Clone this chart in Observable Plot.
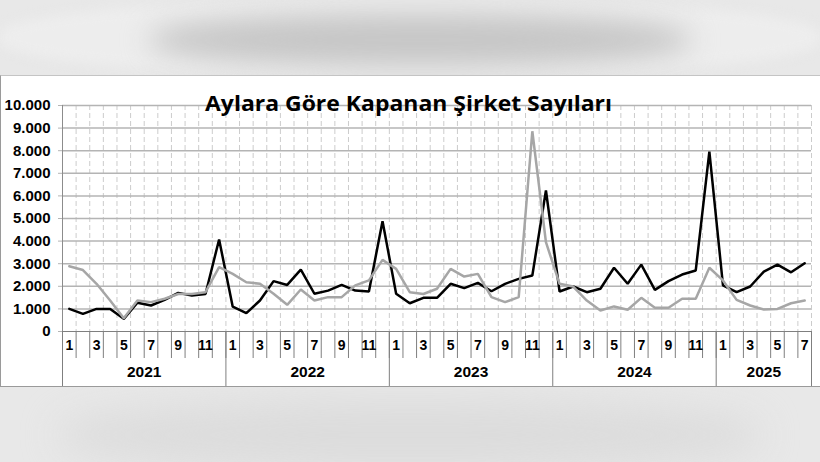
<!DOCTYPE html>
<html><head><meta charset="utf-8">
<script src="https://cdn.jsdelivr.net/npm/d3@7"></script>
<script src="https://cdn.jsdelivr.net/npm/@observablehq/plot@0.6"></script>
<style>
html,body{margin:0;padding:0;}
body{width:820px;height:462px;overflow:hidden;background:#e8e8e8;position:relative;font-family:"Liberation Sans",Arial,sans-serif;}
.blob{position:absolute;border-radius:45%;}
#panel{position:absolute;left:0;top:75px;width:820px;height:312px;box-sizing:border-box;background:#fff;border-top:1px solid #c4c4c4;border-left:1px solid #9a9a9a;border-bottom:1px solid #9a9a9a;}
#chart{position:absolute;left:0;top:75px;}
#overlay{position:absolute;left:0;top:0;pointer-events:none;}
</style>
</head><body>
<div class="blob" style="left:0;top:0;width:820px;height:75px;background:#ededed;filter:blur(6px);"></div>
<div class="blob" style="left:150px;top:14px;width:540px;height:52px;background:#c6c6c6;filter:blur(14px);"></div>
<div class="blob" style="left:60px;top:400px;width:700px;height:70px;background:#dcdcdc;filter:blur(18px);"></div>
<div id="panel"></div>
<div id="chart"></div>
<svg id="overlay" width="820" height="462">
  <text x="408.5" y="111" text-anchor="middle" font-family="'Open Sans', Lato, sans-serif" font-weight="700" font-size="21" textLength="407" lengthAdjust="spacingAndGlyphs" fill="#000">Aylara Göre Kapanan Şirket Sayıları</text>
</svg>
<script>
const years = ["2021", "2022", "2023", "2024", "2025"];
const monthsPerYear = [12, 12, 12, 12, 7];
const seriesBlack = [
  1000, 780, 1000, 1000, 560, 1270, 1150, 1400, 1710, 1590, 1660, 4070,
  1100, 810, 1370, 2230, 2060, 2740, 1670, 1810, 2060, 1810, 1770, 4880,
  1670, 1250, 1490, 1490, 2110, 1920, 2150, 1780, 2110, 2330, 2480, 6240,
  1770, 1990, 1740, 1890, 2820, 2110, 2960, 1840, 2230, 2520, 2700, 7960,
  2040, 1740, 1990, 2650, 2960, 2620, 3020
];
const seriesGray = [
  2890, 2720, 2110, 1370, 590, 1370, 1300, 1450, 1660, 1660, 1740, 2850,
  2550, 2180, 2110, 1670, 1180, 1860, 1370, 1520, 1520, 2040, 2260, 3170,
  2770, 1740, 1660, 1890, 2770, 2430, 2550, 1520, 1300, 1520, 8860, 3950,
  2110, 1990, 1370, 930, 1110, 960, 1490, 1050, 1050, 1450, 1450, 2820,
  2260, 1400, 1150, 970, 1000, 1250, 1370
];
const yTicks = [0, 1000, 2000, 3000, 4000, 5000, 6000, 7000, 8000, 9000, 10000];

const trFormat = d3.formatLocale({decimal: ",", thousands: ".", grouping: [3], currency: ["₺", ""]}).format(",");

const cats = [];
years.forEach((y, yi) => {
  for (let m = 1; m <= monthsPerYear[yi]; m++) cats.push({year: y, month: m, i: cats.length});
});
const n = cats.length;
const blackData = cats.map((c, k) => ({x: k + 0.5, v: seriesBlack[k]}));
const grayData = cats.map((c, k) => ({x: k + 0.5, v: seriesGray[k]}));
const yearStarts = [0];
monthsPerYear.forEach(m => yearStarts.push(yearStarts[yearStarts.length - 1] + m));
const yearCenters = years.map((y, yi) => ({year: y, x: (yearStarts[yi] + yearStarts[yi + 1]) / 2}));
const monthLabelData = cats.filter(c => c.month % 2 === 1).map(c => ({x: c.i + 0.5, text: String(c.month)}));

const chart = Plot.plot({
  width: 820, height: 312,
  marginTop: 30, marginBottom: 56, marginLeft: 62, marginRight: 9,
  x: {type: "linear", domain: [0, n]},
  y: {domain: [0, 10000]},
  style: {background: "transparent", fontFamily: "'Liberation Sans', Arial, sans-serif", overflow: "visible"},
  marks: [
    Plot.ruleX(d3.range(1, n + 1), {stroke: "#cccccc", strokeDasharray: "5,3", strokeWidth: 1}),
    Plot.ruleY(yTicks.slice(1), {stroke: "#b4b4b4", strokeWidth: 1.5}),
    Plot.axisY({ticks: yTicks, tickSize: 4, tickPadding: 8, tickFormat: trFormat, stroke: "#b4b4b4", fill: "#000", fontSize: 15, fontWeight: "bold", label: null}),
    Plot.axisX({ticks: d3.range(0, n + 1), tickSize: 27, tickFormat: () => "", stroke: "#7f7f7f", label: null}),
    Plot.axisX({ticks: yearStarts, tickSize: 55, tickFormat: () => "", stroke: "#7f7f7f", label: null}),
    Plot.ruleX([0], {stroke: "#8c8c8c"}),
    Plot.ruleY([0], {stroke: "#7f7f7f"}),
    Plot.text(monthLabelData, {x: "x", text: "text", frameAnchor: "bottom", dy: 18.5, fontSize: 14, fontWeight: "bold", fill: "#000"}),
    Plot.text(yearCenters, {x: "x", text: "year", frameAnchor: "bottom", dy: 45.5, fontSize: 15.5, fontWeight: "bold", fill: "#000"}),
    Plot.line(blackData, {x: "x", y: "v", stroke: "#000", strokeWidth: 2.5, strokeLinejoin: "miter"}),
    Plot.line(grayData, {x: "x", y: "v", stroke: "#a6a6a6", strokeWidth: 2.5, strokeLinejoin: "miter"})
  ]
});
document.getElementById("chart").appendChild(chart);
</script>
</body></html>
